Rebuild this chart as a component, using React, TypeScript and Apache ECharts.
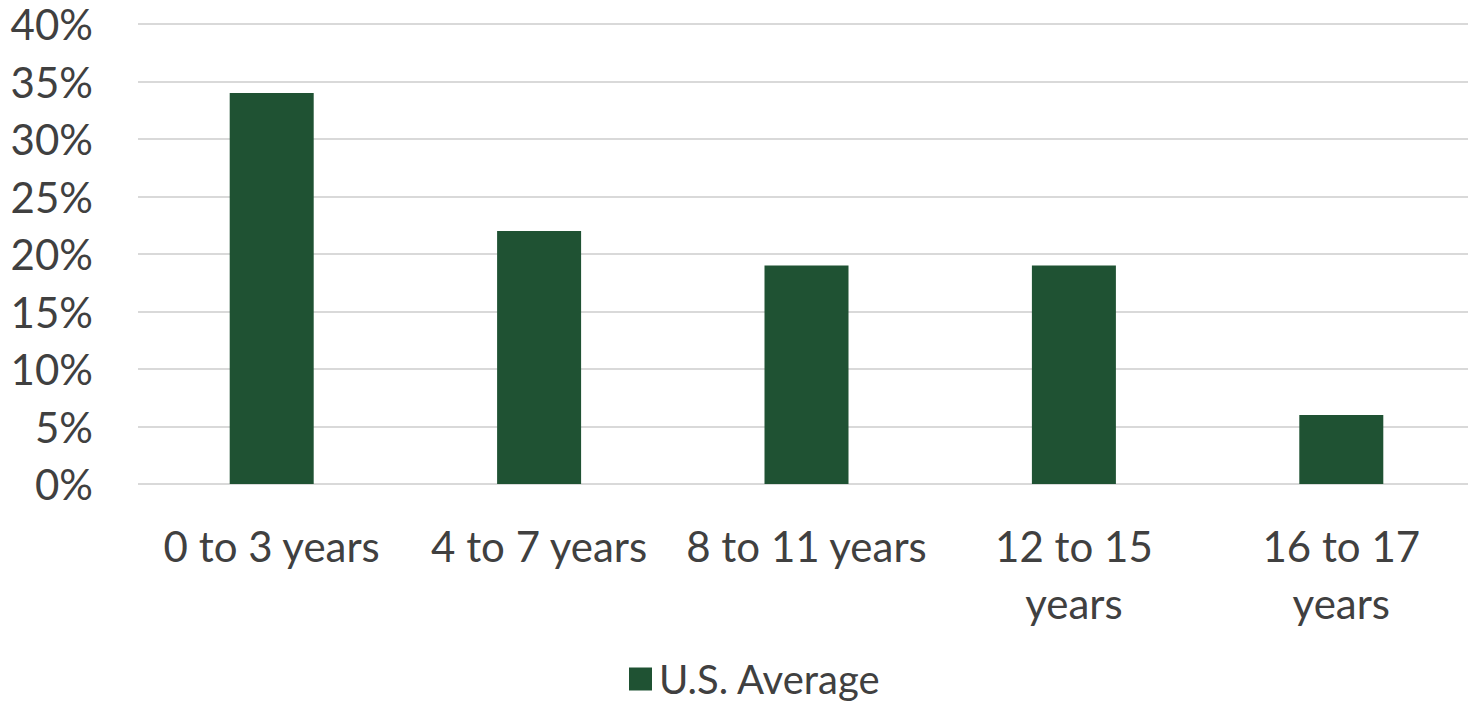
import React, { useEffect, useRef } from "react";
import * as echarts from "echarts";

const categories = ["0 to 3 years", "4 to 7 years", "8 to 11 years", "12 to 15 years", "16 to 17 years"];
const usAverage = [34, 22, 19, 19, 6];
const seriesName = "U.S. Average";

const FONT = "Lato";
const TEXT = "#404040";

export default function App() {
  const ref = useRef<HTMLDivElement>(null);
  useEffect(() => {
    const chart = echarts.init(ref.current!, null, { renderer: "svg" });
    chart.setOption({
      animation: false,
      textStyle: { fontFamily: FONT },
      grid: { left: 138, right: 0, top: 24, bottom: 218, containLabel: false },
      legend: {
        data: [seriesName],
        top: 654,
        left: 624,
        itemWidth: 23,
        itemHeight: 23,
        itemGap: 10,
        icon: "rect",
        textStyle: { fontFamily: FONT, fontSize: 40, color: TEXT, padding: [0, 0, 0, 2] },
      },
      xAxis: {
        type: "category",
        data: categories,
        axisLine: { show: false },
        axisTick: { show: false },
        axisLabel: {
          margin: 33,
          fontFamily: FONT,
          fontSize: 42,
          color: TEXT,
          lineHeight: 57,
          interval: 0,
          formatter: (v: string) => (v.length > 13 ? v.replace(/ (years)$/, "\n$1") : v),
        },
      },
      yAxis: {
        type: "value",
        min: 0,
        max: 40,
        interval: 5,
        axisLine: { show: false },
        axisTick: { show: false },
        splitLine: { lineStyle: { color: "#d9d9d9", width: 2 } },
        axisLabel: {
          margin: 45,
          fontFamily: FONT,
          fontSize: 42,
          color: TEXT,
          formatter: "{value}%",
        },
      },
      series: [
        {
          name: seriesName,
          type: "bar",
          data: usAverage,
          barWidth: 84,
          itemStyle: { color: "#1f5233" },
        },
      ],
    });
    return () => chart.dispose();
  }, []);
  return (
    <div
      ref={ref}
      style={{ position: "fixed", left: 0, top: 0, width: 1475, height: 702, background: "#fff" }}
    />
  );
}
